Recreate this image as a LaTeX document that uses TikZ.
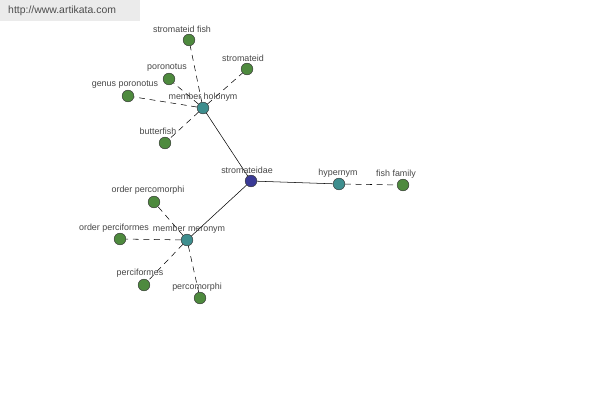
\documentclass[tikz,border=0pt]{standalone}
\usepackage{fontspec}
\setmainfont{Liberation Sans}
\begin{document}
\begin{tikzpicture}[x=0.03cm,y=-0.03cm,
  dot/.style={circle,draw=black!80,line width=0.4pt,minimum size=10pt,inner sep=0pt},
  leaf/.style={dot,fill=leafgreen},
  rel/.style={dot,fill=relteal},
  root/.style={dot,fill=rootblue},
  lbl/.style={font=\fontsize{7.6}{9}\selectfont,text=black!72,inner sep=0pt},
  solidedge/.style={draw=black,line width=0.45pt},
  dashedge/.style={draw=black,line width=0.45pt,dash pattern=on 5pt off 4pt}]
\definecolor{leafgreen}{RGB}{78,138,62}
\definecolor{relteal}{RGB}{62,142,142}
\definecolor{rootblue}{RGB}{58,58,150}
\useasboundingbox (0,0) rectangle (600,400);
\fill[white] (0,0) rectangle (600,400);
\fill[black!8] (0,0) rectangle (140,21);
\node[font=\fontsize{8.9}{10}\selectfont,text=black!70,anchor=west,inner sep=0pt] (url) at (8,11) {http://www.artikata.com};
% nodes
\node[root] (root) at (251,181) {};
\node[rel] (hol) at (203,108) {};
\node[rel] (mer) at (187,240) {};
\node[rel] (hyp) at (339,184) {};
\node[leaf] (ff) at (403,185) {};
\node[leaf] (sf) at (189,40) {};
\node[leaf] (sd) at (247,69) {};
\node[leaf] (po) at (169,79) {};
\node[leaf] (gp) at (128,96) {};
\node[leaf] (bf) at (165,143) {};
\node[leaf] (op) at (154,202) {};
\node[leaf] (of) at (120,239) {};
\node[leaf] (pf) at (144,285) {};
\node[leaf] (pm) at (200,298) {};
% edges
\draw[solidedge] (root) -- (hol);
\draw[solidedge] (root) -- (mer);
\draw[solidedge] (root) -- (hyp);
\draw[dashedge] (hyp) -- (ff);
\draw[dashedge] (hol) -- (sf);
\draw[dashedge] (hol) -- (sd);
\draw[dashedge] (hol) -- (po);
\draw[dashedge] (hol) -- (gp);
\draw[dashedge] (hol) -- (bf);
\draw[dashedge] (mer) -- (op);
\draw[dashedge] (mer) -- (of);
\draw[dashedge] (mer) -- (pf);
\draw[dashedge] (mer) -- (pm);
% labels
\node[lbl] (lroot) at (247,170) {stromateidae};
\node[lbl] (lhol) at (203,97) {member holonym};
\node[lbl] (lmer) at (189,229) {member meronym};
\node[lbl] (lhyp) at (338,173) {hypernym};
\node[lbl] (lff) at (396,174) {fish family};
\node[lbl] (lsf) at (182,29) {stromateid fish};
\node[lbl] (lsd) at (243,58) {stromateid};
\node[lbl] (lpo) at (167,68) {poronotus};
\node[lbl] (lgp) at (125,85) {genus poronotus};
\node[lbl] (lbf) at (158,131) {butterfish};
\node[lbl] (lop) at (148,190) {order percomorphi};
\node[lbl] (lof) at (114,228) {order perciformes};
\node[lbl] (lpf) at (140,273) {perciformes};
\node[lbl] (lpm) at (197,287) {percomorphi};
\end{tikzpicture}
\end{document}
